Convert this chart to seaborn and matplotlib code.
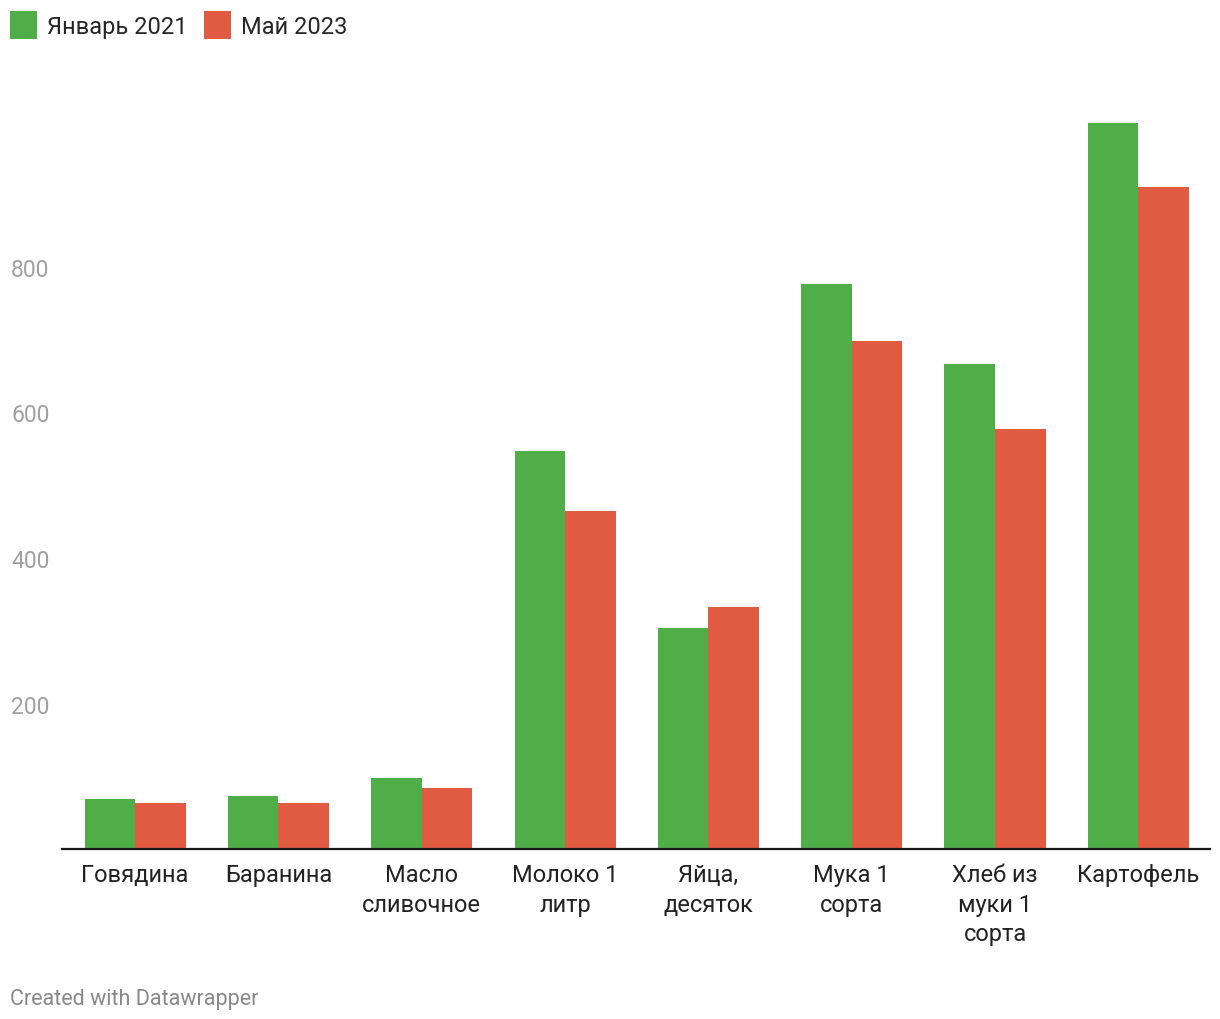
import pandas as pd
import matplotlib.pyplot as plt
import seaborn as sns
from matplotlib.patches import Patch

#%% data
items = ["Говядина", "Баранина", "Масло\nсливочное", "Молоко 1\nлитр",
         "Яйца,\nдесяток", "Мука 1\nсорта", "Хлеб из\nмуки 1\nсорта", "Картофель"]
jan_2021 = [69, 73, 98, 547, 304, 777, 667, 998]
may_2023 = [64, 63, 84, 465, 333, 698, 577, 910]
periods = ["Январь 2021", "Май 2023"]
colors = ["#4fae48", "#e05b42"]

df = pd.DataFrame({
    "item": items * 2,
    "value": jan_2021 + may_2023,
    "period": [periods[0]] * len(items) + [periods[1]] * len(items),
})

#%% plot
sns.set_style("white")
plt.rcParams["font.family"] = ["Roboto", "DejaVu Sans"]

fig = plt.figure(figsize=(12.2, 10.2), dpi=100)
ax = fig.add_axes([0.0508, 0.1663, 0.941, 0.7375])

sns.barplot(data=df, x="item", y="value", hue="period", palette=colors,
            width=0.705, saturation=1, dodge=True, ax=ax, legend=False,
            linewidth=0, edgecolor="none")

ax.set_xlim(-0.51, 7.5)
ax.set_ylim(0, 1033)
ax.set_yticks([200, 400, 600, 800])
ax.tick_params(axis="y", length=0, pad=9, labelsize=16.5, labelcolor="#a0a0a0")
ax.tick_params(axis="x", length=0, pad=10, labelsize=17, labelcolor="#222222")
for lbl in ax.get_xticklabels():
    lbl.set_linespacing(1.35)
ax.set_xlabel("")
ax.set_ylabel("")
for side in ["top", "right", "left"]:
    ax.spines[side].set_visible(False)
ax.spines["bottom"].set_color("#1a1a1a")
ax.spines["bottom"].set_linewidth(1.6)
ax.grid(False)

handles = [Patch(facecolor=c, edgecolor="none", label=p) for c, p in zip(colors, periods)]
fig.legend(handles=handles, loc="upper left", bbox_to_anchor=(0.0082, 0.988),
           ncol=2, frameon=False, fontsize=17, handlelength=1.14,
           handleheight=1.4, handletextpad=0.42, columnspacing=0.7,
           borderpad=0, borderaxespad=0)

fig.text(0.008, 0.0205, "Created with Datawrapper", fontsize=15.5, color="#888888",
         ha="left", va="center")

fig.savefig("out.png", dpi=100)
